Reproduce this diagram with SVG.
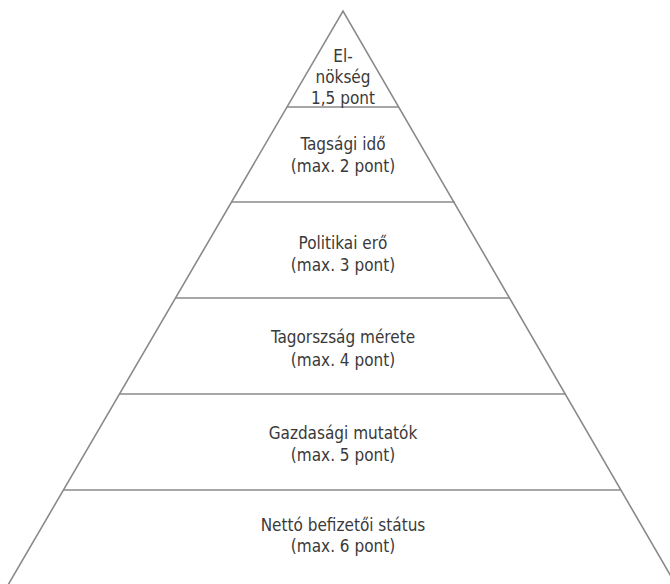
<svg xmlns="http://www.w3.org/2000/svg" width="670" height="584" viewBox="0 0 670 584">
<style>
.ln{stroke:#8a8a8a;stroke-width:1.6;fill:none}
.t{font-family:"DejaVu Sans Condensed","DejaVu Sans",sans-serif;font-stretch:condensed;font-size:17px;fill:#3a3a3a;text-anchor:middle}
</style>
<rect width="670" height="584" fill="#fff"/>
<g id="connectors">
<path class="ln" d="M8,585 L343,11 L676,585"/>
<line class="ln" x1="287" y1="107" x2="399" y2="107"/>
<line class="ln" x1="232" y1="202" x2="455" y2="202"/>
<line class="ln" x1="176" y1="298" x2="510" y2="298"/>
<line class="ln" x1="120" y1="394" x2="566" y2="394"/>
<line class="ln" x1="64" y1="490" x2="621" y2="490"/>
</g>
<g id="n1"><text class="t" x="343" y="62">El-</text><text class="t" x="343" y="83">nökség</text><text class="t" x="343" y="104">1,5 pont</text></g>
<g id="n2"><text class="t" x="343" y="150">Tagsági idő</text><text class="t" x="343" y="172">(max. 2 pont)</text></g>
<g id="n3"><text class="t" x="343" y="249">Politikai erő</text><text class="t" x="343" y="271">(max. 3 pont)</text></g>
<g id="n4"><text class="t" x="343" y="343">Tagorszság mérete</text><text class="t" x="343" y="366">(max. 4 pont)</text></g>
<g id="n5"><text class="t" x="343" y="439">Gazdasági mutatók</text><text class="t" x="343" y="461">(max. 5 pont)</text></g>
<g id="n6"><text class="t" x="343" y="531">Nettó befizetői státus</text><text class="t" x="343" y="552">(max. 6 pont)</text></g>
</svg>
